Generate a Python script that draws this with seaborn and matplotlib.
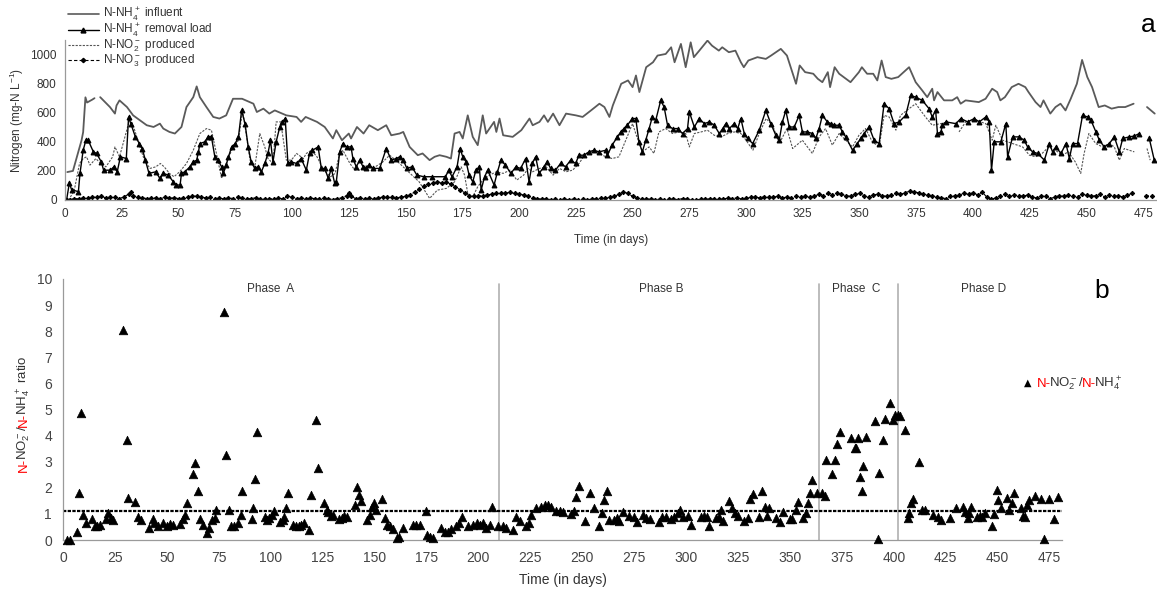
import numpy as np
import pandas as pd
import seaborn as sns
import matplotlib.pyplot as plt
from matplotlib.lines import Line2D

NAN = np.nan

# (day, mg-N/L); NAN marks a gap in the line
INFLUENT = [(1, 192), (3.5, 200), (7.3, 411), (8, 467), (9, 706), (9.7, 670), (12, 690), (13, 700), (14, NAN),
            (15.5, 707), (19.8, 639), (22, 594), (22.7, 650), (24, 685), (27.3, 639), (30, 582), (33, 548),
            (36, 514), (39, 502), (41.8, 525), (43.3, 491), (46, 468), (48.4, 457), (51.3, 502), (53.5, 639),
            (56.5, 707), (58, 781), (59.4, 707), (62.3, 639), (65.3, 571), (68, 560), (71, 582), (74, 696),
            (78, 696), (83, 662), (84.5, 605), (87.4, 628), (90, 594), (92.4, 616), (97.5, 582), (102, 571),
            (104, 537), (106, 571), (111, 537), (114.4, 502), (118, 423), (119.5, 480), (122, 411), (125, 457),
            (126, 423), (128.6, 502), (131.5, 457), (134, 514), (137.8, 480), (141.5, 514), (143.7, 445),
            (147.4, 457), (149, 468), (151.8, 365), (155.4, 308), (157.5, 320), (160.6, 274), (162.8, 297),
            (165, 308), (168, 297), (170, 285), (171.6, 457), (173.8, 468), (175.2, 423), (177.4, 582),
            (179.6, 434), (181.8, 377), (184, 582), (185.5, 457), (189, 537), (190, 468), (191.4, 560),
            (193, 445), (197.2, 434), (201, 480), (204.6, 560), (206, 514), (209, 537), (211, 582), (212.7, 537),
            (215, 594), (217.8, 514), (220.7, 594), (225, 582), (228, 571), (231.7, 616), (235.4, 662),
            (237.6, 639), (239.8, 571), (241.3, 650), (245, 799), (248, 822), (250, 776), (251.5, 856),
            (253, 742), (256, 913), (259, 947), (261, 993), (264.6, 1004), (267, 1050), (268.5, 947),
            (271.3, 1073), (273.4, 913), (275.6, 1084), (277, 982), (279.4, 1027), (283, 1096), (285, 1061),
            (288, 1027), (289.5, 1050), (292.4, 1016), (295.3, 1027), (297.7, 947), (299, 913), (301, 959),
            (305, 982), (308.7, 970), (311, 993), (315.3, 1039), (318, 993), (322, 799), (323.6, 925),
            (326, 879), (329.6, 868), (331.6, 833), (333.6, 810), (336, 879), (337, 776), (339, 913), (341, 868),
            (346, 810), (349.7, 879), (351, 913), (353.3, 868), (356, 868), (357.8, 822), (359.7, 959),
            (361.5, 845), (364, 833), (367, 845), (371.8, 913), (374.7, 810), (377.6, 753), (379.8, 707),
            (382, 765), (382.8, 685), (384.3, 742), (387.2, 685), (390.8, 685), (393, 707), (394.5, 662),
            (396.7, 685), (402.5, 673), (405.5, 696), (408.4, 765), (410.6, 742), (412, 685), (414, 707),
            (417, 776), (420, 799), (423, 776), (424.4, 742), (427.5, 673), (429.7, 639), (431, 685), (434, 594),
            (436.3, 639), (438.5, 662), (440.7, 616), (443, 696), (445.7, 799), (448, 963), (450.3, 845),
            (452.4, 776), (455.3, 639), (458, 650), (461, 628), (464, 639), (467, 639), (470.7, 662), (473, NAN),
            (476.6, 639), (480, 594)]

REMOVAL = [(0.7, 0), (1.9, 116), (2.9, 71), (5.9, 57), (6.6, 183), (8, 342), (9.2, 411), (10.2, 411), (12.5, 331),
           (13.9, 320), (16, 262), (17, 205), (20, 205), (21.5, 228), (23, 194), (24.4, 297), (27, 285), (28, 570),
           (29, 525), (31, 434), (32.8, 388), (34, 354), (35.4, 274), (37, 183), (40, 194), (41.8, 148),
           (43.3, 183), (45.5, 171), (47.7, 125), (49, 103), (50.7, 103), (51.3, 183), (52.8, 194), (55, 228),
           (56.5, 262), (58, 274), (58.8, 331), (59.4, 388), (61.6, 400), (63, 434), (64.5, 434), (66, 297),
           (67.4, 274), (69, 228), (69.7, 183), (71, 240), (72, 297), (73.4, 365), (75, 388), (76.4, 434),
           (77.8, 616), (79.3, 525), (80.7, 365), (82, 262), (83.6, 217), (85, 228), (86.5, 194), (88, 251),
           (89.4, 320), (90.5, 411), (91.6, 262), (93, 400), (94.6, 502), (95.7, 537), (97, 560), (98.2, 251),
           (99.7, 262), (102, 251), (104, 285), (106.3, 205), (107.7, 320), (109, 342), (111.5, 365),
           (112.9, 217), (114.4, 217), (116, 148), (117.3, 217), (118.8, 114), (119.5, 125), (121, 331),
           (122.4, 388), (124, 365), (126, 365), (126.8, 285), (128.3, 228), (129.8, 274), (131.3, 228),
           (132.7, 217), (134, 240), (135.6, 217), (138.6, 217), (141.5, 354), (143.7, 274), (145.9, 285),
           (147.4, 297), (149, 274), (150.6, 217), (152.8, 228), (155, 171), (158, 160), (161.7, 160),
           (167.6, 160), (169, 205), (170.5, 160), (172.7, 228), (174, 354), (175.2, 297), (176.7, 262),
           (178, 171), (179.6, 125), (181, 205), (182.5, 228), (183.3, 68), (184.8, 160), (186.2, 205),
           (189, 103), (190.5, 194), (192, 274), (194, 240), (196.4, 183), (198.6, 228), (200.7, 217),
           (202.9, 285), (204.4, 125), (205.8, 251), (207.3, 297), (208.8, 183), (211, 228), (212.4, 262),
           (213.9, 217), (216, 205), (218.3, 251), (220.5, 228), (222.7, 274), (224.9, 251), (226.4, 308),
           (228.6, 308), (230.8, 331), (233, 342), (235.2, 331), (238.2, 342), (238.9, 308), (241, 377),
           (243.3, 434), (244.8, 468), (246.2, 491), (247.7, 514), (249.9, 560), (251.4, 560), (252.8, 400),
           (254.3, 331), (255.8, 411), (257.3, 491), (258.7, 571), (260.2, 548), (262.4, 685), (263.9, 639),
           (265.4, 514), (267.6, 491), (269.8, 491), (272, 457), (274.2, 491), (275, 605), (277.2, 502),
           (279.4, 560), (281.6, 525), (283.8, 537), (286, 514), (288.2, 457), (289.7, 491), (291.1, 525),
           (292.6, 491), (294.8, 525), (296.3, 491), (297.7, 560), (299.2, 457), (300.7, 423), (302.9, 388),
           (305.8, 480), (308.7, 616), (310.9, 525), (313.1, 445), (314.6, 411), (316, 537), (317.5, 616),
           (319, 502), (321.2, 502), (323.4, 582), (324.8, 468), (327, 468), (329.2, 457), (330.7, 423),
           (332.2, 491), (333.6, 582), (335.8, 537), (337.3, 525), (338.8, 514), (341, 514), (342.4, 468),
           (343.9, 434), (346.9, 342), (349, 388), (350.5, 423), (352, 457), (354.2, 502), (356.4, 411),
           (358.6, 388), (360.8, 662), (363, 628), (365.2, 525), (367.4, 537), (370.3, 582), (372.5, 719),
           (374.7, 707), (377.6, 685), (380.6, 628), (382, 571), (383.5, 616), (384.3, 457), (385.8, 468),
           (386.5, 514), (388, 537), (392.4, 525), (394.6, 560), (397.6, 537), (400.5, 560), (402.7, 537),
           (405.6, 571), (407.1, 537), (408.1, 205), (409.3, 400), (412.2, 400), (414.4, 525), (415.2, 297),
           (417.4, 434), (420.3, 434), (422.5, 411), (424, 365), (426.2, 331), (428.4, 320), (431.4, 274),
           (433.6, 388), (435, 331), (436.5, 365), (438.7, 320), (440.9, 388), (442.4, 285), (443.8, 388),
           (446, 388), (448.2, 582), (450.4, 571), (451.9, 548), (454.1, 468), (455.6, 411), (457.8, 365),
           (460, 388), (462.2, 434), (464.4, 331), (465.9, 423), (468.8, 434), (471, 440), (473.2, 457),
           (475, NAN), (477.6, 423), (479.8, 274)]

NO2 = [(1.5, 0), (4, 60), (6.4, 251), (8, 285), (9.5, 297), (11, 240), (13.6, 285), (15, 262), (18, 228), (21, 297),
       (22, 365), (24, 297), (27, 468), (28.6, 560), (30, 514), (33, 365), (35, 274), (37.4, 217), (40, 228),
       (42, 251), (43.7, 228), (46, 183), (48, 160), (50.5, 194), (53.5, 251), (56.5, 342), (59.4, 457),
       (62.3, 491), (64.5, 480), (66.7, 320), (69, 148), (71, 251), (73.4, 342), (76.4, 411), (78.2, 616),
       (80, 434), (81.5, 274), (83.6, 228), (85.8, 457), (88, 365), (89.4, 285), (91.6, 251), (93, 537),
       (95, 537), (97.5, 274), (99.7, 274), (102, 320), (105, 285), (106.3, 320), (108.5, 342), (111, 297),
       (114, 205), (117, 160), (119, 183), (120.6, 297), (122.4, 342), (125.5, 251), (127.7, 205), (130, 205),
       (132.7, 240), (135.6, 217), (140, 262), (143, 308), (147.4, 251), (152, 183), (156, 125), (160.6, 11),
       (164, 68), (168, 80), (171.6, 125), (174.5, 228), (176, 171), (177.4, 46), (179.6, 23), (181.8, 91),
       (184, 137), (187, 171), (190, 194), (193, 183), (196, 205), (199, 137), (202, 171), (204, 217),
       (206, 194), (209, 217), (212, 228), (215, 171), (217.8, 217), (220.7, 194), (223.6, 205), (226.4, 251),
       (229.4, 320), (232.3, 331), (235.2, 320), (238.2, 297), (241, 285), (244, 297), (247, 411), (250, 525),
       (251.4, 457), (254.3, 331), (257.3, 365), (259.4, 320), (261.6, 468), (264.6, 491), (267.6, 457),
       (270.5, 468), (273.4, 457), (275, 365), (277.2, 457), (280.2, 468), (283, 480), (286, 445), (289, 434),
       (292, 457), (294.8, 468), (297.7, 457), (300, 411), (303, 342), (305.8, 457), (308.8, 560), (311.7, 514),
       (314.6, 388), (318, 491), (320.5, 354), (324.8, 411), (329.2, 320), (332.2, 434), (335, 491), (338, 377),
       (341, 457), (343.9, 411), (346.9, 365), (349.7, 445), (352.6, 491), (355.6, 400), (358.6, 365),
       (360.8, 582), (363, 571), (366, 480), (368, 582), (371.8, 628), (374.7, 662), (379, 571), (382, 514),
       (385.8, 525), (389, 537), (391, NAN), (393.8, 468), (396.7, 537), (401, 548), (405.6, 525), (408.4, 411),
       (410, 514), (413, 411), (417.4, 388), (421.8, 365), (424.8, 308), (427.5, 297), (430.4, 320),
       (433.3, 365), (436.3, 342), (439.2, 308), (442, 331), (445, 262), (447.4, 183), (448.9, 320), (451, 457),
       (454, 388), (457, 365), (460, 388), (462.2, 365), (464.4, 274), (466.6, 354), (468.8, 342), (471, 331),
       (474, NAN), (476.6, 354), (478, 274)]

NO3_DAYS = [0, 2, 4, 6, 8, 10, 12, 14, 16, 18, 20, 22, 24, 26, 28, 29, 30, 32, 34, 36, 38, 40, 42, 44, 46, 48,
            50, 52, 54, 56, 58, 60, 62, 64, 66, 68, 70, 72, 74, 76, 78, 80, 82, 84, 86, 88, 90, 92, 94, 96, 98,
            100, 102, 104, 106, 108, 110, 112, 114, 116, 118, 120, 122, 124, 125, 126, 128, 130, 132, 134, 136,
            138, 140, 142, 144, 146, 148, 150, 152, 154, 156, 158, 160, 162, 164, 166, 168, 170, 172, 174, 176,
            178, 180, 182, 184, 186, 188, 190, 192, 194, 196, 198, 200, 202, 204, 206, 208, 210, 212, 214, 216,
            218, 220, 222, 224, 226, 228, 230, 232, 234, 236, 238, 240, 242, 244, 246, 248, 250, 252, 254, 256,
            258, 260, 262, 264, 266, 268, 270, 272, 274, 276, 278, 280, 282, 284, 286, 288, 290, 292, 294, 296,
            298, 300, 302, 304, 306, 308, 310, 312, 314, 316, 318, 320, 322, 324, 326, 328, 330, 332, 334, 336,
            338, 340, 342, 344, 346, 348, 350, 352, 354, 356, 358, 360, 362, 364, 366, 368, 370, 372, 374, 376,
            378, 380, 382, 384, 386, 388, 390, 392, 394, 396, 398, 400, 402, 404, 406, 408, 410, 412, 414, 416,
            418, 420, 422, 424, 426, 428, 430, 432, 434, 436, 438, 440, 442, 444, 446, 448, 450, 452, 454, 456,
            458, 460, 462, 464, 466, 468, 470, 473, 476, 479]
NO3_VALS = [0, 0, 10, 8, 15, 12, 20, 18, 25, 15, 20, 18, 10, 22, 40, 55, 30, 20, 15, 10, 12, 15, 10, 18, 12, 15,
            10, 14, 20, 25, 28, 20, 15, 18, 10, 12, 8, 15, 10, 20, 12, 5, 10, 15, 8, 5, 10, 6, 12, 8, 25,
            20, 10, 15, 8, 12, 10, 5, 12, 8, 3, 10, 15, 30, 45, 25, 10, 15, 10, 12, 8,
            15, 20, 18, 20, 15, 20, 25, 35, 55, 75, 95, 110, 120, 125, 118, 122, 110, 90, 70, 50,
            30, 28, 30, 28, 35, 40, 45, 50, 48, 52, 45, 40, 35, 25, 15, 10, 5, 8, 3, 5,
            2, 5, 3, 6, 2, 4, 3, 5, 8, 12, 15, 20, 25, 40, 55, 45, 25, 15, 10, 5,
            8, 3, 5, 2, 4, 6, 3, 10, 5, 3, 2, 5, 4, 8, 6, 10, 8, 12, 10, 15,
            8, 12, 18, 20, 15, 22, 18, 20, 25, 15, 20, 12, 25, 20, 30, 18, 25, 40, 30, 45,
            35, 50, 38, 30, 25, 40, 45, 30, 20, 35, 40, 30, 25, 35, 45, 40, 50, 60, 55, 50,
            40, 35, 30, 20, 15, 10, 25, 30, 35, 45, 40, 50, 35, 55, 20, 5, 15, 30, 40, 25,
            35, 30, 25, 35, 20, 15, 30, 25, 10, 20, 30, 25, 35, 30, 20, 40, 35, 25, 30, 40,
            20, 35, 25, 30, 20, 35, 45, NAN, 30, 25]

# (day, ratio)
RATIO = [(1.8, 0), (3.4, 0), (6.6, 0.32), (7.7, 1.81), (8.7, 4.88), (9.8, 0.96), (11, 0.67), (13.8, 0.80),
         (15.2, 0.52), (16.6, 0.52), (17.8, 0.58), (20.7, 0.80), (21.8, 1.03), (23, 0.84), (24.2, 0.77),
         (28.7, 8.05), (30.6, 3.83), (31.4, 1.60), (34.6, 1.44), (35.9, 0.88), (37.4, 0.77), (41.4, 0.45),
         (43.5, 0.81), (44, 0.64), (45.9, 0.52), (48.3, 0.64), (49.9, 0.52), (51.5, 0.61), (52.8, 0.56),
         (56.3, 0.61), (57.6, 0.80), (58.7, 0.96), (59.8, 1.41), (62.4, 2.52), (63.5, 2.96), (65.1, 1.88),
         (65.9, 0.80), (67.2, 0.58), (69.4, 0.28), (70.4, 0.47), (71.8, 0.77), (73.1, 0.84), (73.9, 1.15),
         (77.5, 8.75), (78.4, 3.26), (79.9, 1.15), (80.7, 0.52), (82.4, 0.54), (84.2, 0.64), (85.5, 0.96),
         (86.4, 1.89), (90.8, 0.80), (91.6, 1.22), (92.4, 2.33), (93.2, 4.15), (97.2, 0.88), (98, 0.77),
         (99.3, 0.84), (100.4, 0.96), (101.5, 1.13), (104.4, 0.70), (105.7, 0.77), (106.3, 0.88), (107.3, 1.22),
         (108.4, 1.81), (110.8, 0.58), (112.1, 0.52), (113.5, 0.52), (114.8, 0.58), (116, 0.67), (118.4, 0.38),
         (119.6, 1.73), (121.7, 4.60), (122.9, 2.76), (125.6, 1.42), (126.9, 1.15), (127.7, 1.09), (128.8, 0.92),
         (130.1, 0.96), (133, 0.80), (134.1, 0.84), (135.2, 0.92), (136.5, 0.88), (140.5, 1.35), (141.7, 2.02),
         (142.5, 1.73), (143.7, 1.48), (146.5, 0.77), (147.8, 0.96), (148.6, 1.28), (149.7, 1.41), (150.7, 1.15),
         (153.4, 1.57), (155, 0.84), (156.1, 0.58), (157.4, 0.52), (159, 0.42), (160.6, 0.06), (161.7, 0.13),
         (163.8, 0.45), (168.6, 0.58), (170.2, 0.58), (171.8, 0.58), (174.7, 1.13), (175.3, 0.18), (176.6, 0.11),
         (178.2, 0.08), (182.2, 0.45), (183.8, 0.32), (185.4, 0.32), (187, 0.42), (189.1, 0.52), (190.6, 0.64),
         (192, 0.88), (195.1, 0.52), (197.5, 0.58), (199.1, 0.64), (200.7, 0.58), (202.3, 0.64), (203.9, 0.45),
         (205.5, 0.58), (206.6, 1.28), (209.5, 0.52), (211.9, 0.52), (213.5, 0.45), (216.7, 0.38), (218.3, 0.87),
         (219.9, 0.74), (223.1, 0.52), (224.4, 0.64), (225.5, 0.96), (227.6, 1.22), (230.3, 1.28), (231.9, 1.35),
         (233.5, 1.35), (235.1, 1.26), (237.5, 1.13), (239.1, 1.13), (240.7, 1.09), (244.7, 1.00), (246, 1.13),
         (247.1, 1.64), (248.4, 2.05), (251.1, 0.71), (253.5, 1.79), (255.5, 1.22), (258.3, 0.55), (259.6, 1.03),
         (260.7, 1.54), (261.9, 1.86), (262.8, 0.77), (265.5, 0.77), (266.6, 0.84), (267.9, 0.74), (269.5, 1.09),
         (272.7, 0.92), (275.1, 0.88), (276.3, 0.70), (279.1, 0.96), (280.7, 0.84), (282.6, 0.80), (287.1, 0.70),
         (288.4, 0.88), (290.3, 0.87), (292.7, 0.80), (294.3, 0.87), (295.9, 1.03), (297.2, 1.15), (298.7, 0.88),
         (300.8, 0.92), (302.4, 0.58), (307.2, 0.88), (308.8, 0.92), (309.9, 0.87), (311.2, 0.54), (314.4, 0.84),
         (316, 0.87), (316.8, 1.15), (317.9, 0.74), (320.8, 1.51), (322.1, 1.22), (323.7, 1.03), (324.8, 0.92),
         (328, 0.74), (329.6, 0.84), (330.8, 1.57), (332.4, 1.77), (335.2, 0.88), (336.5, 1.86), (338.1, 1.28),
         (338.9, 0.92), (339.7, 1.22), (343.2, 0.84), (345, 0.70), (346.6, 1.09), (349.8, 0.80), (351.1, 0.80),
         (352.7, 1.15), (353.8, 1.47), (356.2, 0.84), (357.5, 1.03), (358.6, 1.42), (359.8, 1.81), (360.6, 2.30),
         (363, 1.81), (365.5, 1.81), (366.7, 1.67), (367.5, 3.07), (370.4, 2.52), (371.5, 3.07), (372.8, 3.67),
         (373.9, 4.15), (379.5, 3.90), (381.1, 3.51), (381.9, 3.51), (382.7, 3.90), (383.5, 2.40), (384.6, 1.88),
         (385.4, 2.82), (386.7, 3.96), (391, 4.56), (392.3, 0.03), (393.1, 2.55), (394.7, 3.83), (395.8, 4.62),
         (398.4, 5.24), (399.8, 4.60), (400.8, 4.79), (401.9, 4.79), (403.2, 4.75), (405.4, 4.21), (406.7, 0.84),
         (407.5, 1.03), (408.3, 1.42), (409.4, 1.58), (412.3, 2.99), (413.6, 1.16), (415.2, 1.14), (419, 0.96),
         (421.1, 0.88), (422.7, 0.77), (427, 0.86), (430.2, 1.22), (433.4, 1.28), (434.4, 1.09), (435.5, 0.84),
         (436.3, 1.03), (437.3, 1.26), (440.3, 0.88), (441.4, 0.92), (442.4, 0.88), (444, 1.03), (447.5, 0.52),
         (448.3, 1.00), (449.5, 1.92), (450.4, 1.54), (451.5, 1.22), (454.4, 1.60), (455.5, 1.15), (456.8, 1.41),
         (457.9, 1.81), (461.1, 1.22), (462.3, 0.92), (463.2, 0.88), (464, 1.35), (465.1, 1.54), (468, 1.69),
         (470.7, 1.57), (472.3, 0.03), (474.7, 1.57), (477.1, 0.80), (479.2, 1.64)]

RATIO_REF = 1.1
PHASE_BOUNDS = [210, 364, 402]
PHASES = [("Phase  A", 100), ("Phase B", 288), ("Phase  C", 382), ("Phase D", 443)]
LEGEND_A = ["N-NH$_4^+$ influent", "N-NH$_4^+$ removal load", "N-NO$_2^-$ produced", "N-NO$_3^-$ produced"]


def to_frame(pairs):
    d = pd.DataFrame(pairs, columns=["day", "val"])
    d["seg"] = d["val"].isna().cumsum()
    return d.dropna()


sns.set_style("white")
plt.rcParams["font.family"] = ["Liberation Sans", "DejaVu Sans"]
plt.rcParams["mathtext.default"] = "regular"

W, H = 1157, 592
fig = plt.figure(figsize=(W / 100, H / 100), dpi=100)
GRAY = "#9a9a9a"
TXT = "#333333"

# ---------------- panel a ----------------
ax1 = fig.add_axes([65 / W, 1 - 200 / H, (W - 65) / W, 160 / H])
sns.lineplot(data=to_frame(INFLUENT), x="day", y="val", units="seg", estimator=None, sort=False,
             color="#5a5a5a", lw=1.3, ax=ax1)
sns.lineplot(data=to_frame(NO2), x="day", y="val", units="seg", estimator=None, sort=False,
             color="#555555", lw=0.8, linestyle=(0, (2, 1.2)), ax=ax1)
sns.lineplot(data=to_frame(REMOVAL), x="day", y="val", units="seg", estimator=None, sort=False,
             color="black", lw=1.0, marker="^", markersize=3.5, mec="black", ax=ax1)
sns.lineplot(data=to_frame(list(zip(NO3_DAYS, NO3_VALS))), x="day", y="val", units="seg", estimator=None,
             sort=False, color="black", lw=0.8, linestyle=(0, (3, 2)), marker="D", markersize=2.2,
             mec="black", ax=ax1)
ax1.set_xlim(0, 481)
ax1.set_ylim(0, 1100)
ax1.set_xticks(range(0, 476, 25))
ax1.set_yticks(range(0, 1001, 200))
ax1.set_xlabel("Time (in days)", fontsize=8.5, color=TXT, labelpad=10)
ax1.set_ylabel("Nitrogen (mg-N L$^{-1}$)", fontsize=8.5, color=TXT, labelpad=3)
ax1.tick_params(labelsize=8.5, colors=TXT, length=3, width=0.8, color=GRAY, pad=3)
for s in ["top", "right"]:
    ax1.spines[s].set_visible(False)
for s in ["left", "bottom"]:
    ax1.spines[s].set_color(GRAY)
    ax1.spines[s].set_linewidth(0.9)

handles = [Line2D([], [], color="#5a5a5a", lw=1.2),
           Line2D([], [], color="black", lw=1.0, marker="^", markersize=3.5),
           Line2D([], [], color="#555555", lw=0.8, linestyle=(0, (2, 1.2))),
           Line2D([], [], color="black", lw=0.8, linestyle=(0, (3, 2)), marker="D", markersize=2.2)]
leg = fig.legend(handles, LEGEND_A, loc="upper left", bbox_to_anchor=(68 / W, 1 - 6 / H), frameon=False,
                 fontsize=8.5, handlelength=2.6, handletextpad=0.4, labelspacing=-0.12, borderpad=0,
                 borderaxespad=0)
for t in leg.get_texts():
    t.set_color(TXT)
fig.text(1148 / W, 1 - 25 / H, "a", fontsize=19, ha="center", va="center", color="black")

# ---------------- panel b ----------------
ax2 = fig.add_axes([63 / W, 1 - 540 / H, (1062 - 63) / W, 261 / H])
rd = pd.DataFrame(RATIO, columns=["day", "ratio"])
sns.scatterplot(data=rd, x="day", y="ratio", marker="^", s=38, color="black", edgecolor="black",
                linewidth=0.5, clip_on=False, ax=ax2, zorder=3)
ax2.axhline(RATIO_REF, color="black", lw=1.6, linestyle=(0, (1.5, 0.6)), zorder=2)
for b in PHASE_BOUNDS:
    ax2.axvline(b, ymin=0, ymax=0.98, color="#b0b0b0", lw=1.2, zorder=1)
for name, xd in PHASES:
    ax2.text(xd, 9.6, name, fontsize=8.5, color=TXT, ha="center", va="center")
ax2.set_xlim(0, 481)
ax2.set_ylim(0, 10)
ax2.set_xticks(range(0, 476, 25))
ax2.set_yticks(range(0, 11))
ax2.set_xlabel("Time (in days)", fontsize=10, color=TXT, labelpad=6)
ax2.set_ylabel("")
ax2.tick_params(labelsize=10, colors="#444444", length=4, width=0.8, color=GRAY, pad=4)
for s in ["top", "right"]:
    ax2.spines[s].set_visible(False)
for s in ["left", "bottom"]:
    ax2.spines[s].set_color(GRAY)
    ax2.spines[s].set_linewidth(0.9)

# multicoloured rotated y label
ylab = [("N-", "red"), ("NO$_2^-$/", TXT), ("N-", "red"), ("NH$_4^+$ ratio", TXT)]
prev = fig.text(27 / W, 1 - 472 / H, ylab[0][0], color=ylab[0][1], fontsize=9.5, rotation=90,
                rotation_mode="anchor", ha="left", va="baseline")
for txt, col in ylab[1:]:
    prev = ax2.annotate(txt, xy=(27 / W, 1.0), xycoords=("figure fraction", prev), xytext=(0, -1.5),
                        textcoords="offset points", color=col, fontsize=9.5, rotation=90,
                        rotation_mode="anchor", ha="left", va="baseline", annotation_clip=False)

# legend of panel b
fig.text(1028 / W, 1 - 383 / H, "\u25B2", fontsize=7, ha="center", va="center", color="black",
         family=["DejaVu Sans"])
legb = [("N-", "red"), ("NO$_2^-$/", TXT), ("N-", "red"), ("NH$_4^+$", TXT)]
prev = fig.text(1037 / W, 1 - 387 / H, legb[0][0], color=legb[0][1], fontsize=9.5, ha="left", va="baseline")
for txt, col in legb[1:]:
    prev = ax2.annotate(txt, xy=(1.0, 1 - 387 / H), xycoords=(prev, "figure fraction"), xytext=(-1.5, 0),
                        textcoords="offset points", color=col, fontsize=9.5, ha="left", va="baseline",
                        annotation_clip=False)
fig.text(1102 / W, 1 - 291 / H, "b", fontsize=19, ha="center", va="center", color="black")

fig.savefig("out.png", dpi=100)
